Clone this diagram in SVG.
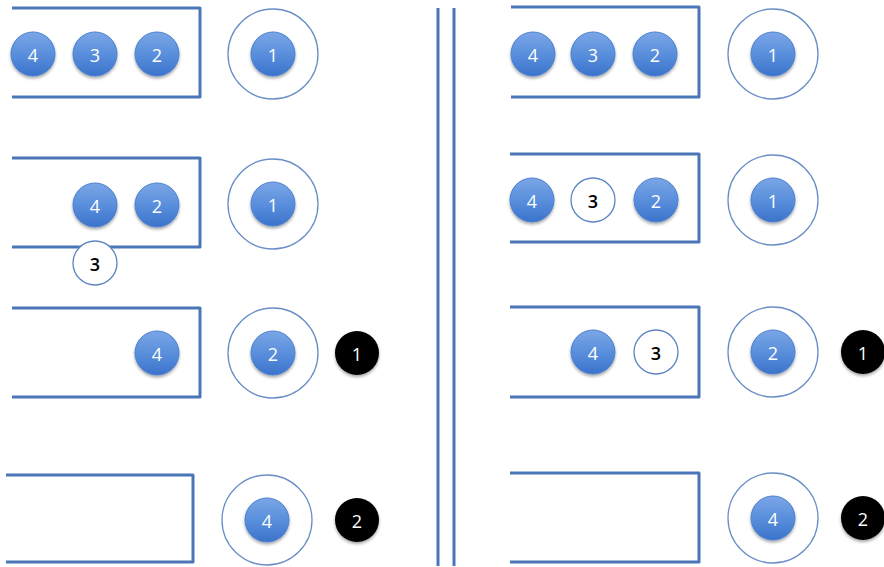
<svg xmlns="http://www.w3.org/2000/svg" width="884" height="567" viewBox="0 0 884 567">
<defs>
<linearGradient id="blue" x1="0" y1="0" x2="0" y2="1">
<stop offset="0" stop-color="#7ba6e6"/>
<stop offset="0.5" stop-color="#5a8fdc"/>
<stop offset="1" stop-color="#3b73cc"/>
</linearGradient>
<filter id="sh" x="-30%" y="-30%" width="160%" height="170%">
<feDropShadow dx="0" dy="2" stdDeviation="1.5" flood-color="#000" flood-opacity="0.35"/>
</filter>
</defs>
<style>
.box{fill:none;stroke:#4a76b8;stroke-width:3;stroke-linejoin:round}
.ring{fill:none;stroke:#6a8fc6;stroke-width:1.3}
.b{fill:url(#blue);stroke:#4a7fcf;stroke-width:1;filter:url(#sh)}
.k{fill:#000;filter:url(#sh)}
.w{fill:#fff;stroke:#5b84c0;stroke-width:1.3}
.sep{stroke:#4a76b8;stroke-width:3}
text{font-family:"Open Sans","Liberation Sans",sans-serif;font-size:18px;text-anchor:middle;dominant-baseline:central}
.tw{fill:#fff}
.tb{fill:#000;font-weight:600}
</style>
<g id="separator">
<line class="sep" x1="438" y1="8" x2="438" y2="566"/>
<line class="sep" x1="454" y1="8" x2="454" y2="566"/>
</g>
<g id="left-row1">
<path class="box" d="M12 8 H200 V97 H12"/>
<circle class="b" cx="33" cy="54" r="22"/><text class="tw" x="33" y="55">4</text>
<circle class="b" cx="95" cy="54" r="22"/><text class="tw" x="95" y="55">3</text>
<circle class="b" cx="157" cy="54" r="22"/><text class="tw" x="157" y="55">2</text>
<circle class="ring" cx="273" cy="54" r="45"/>
<circle class="b" cx="273" cy="54" r="22"/><text class="tw" x="273" y="55">1</text>
</g>
<g id="left-row2">
<path class="box" d="M12 158 H200 V247 H12"/>
<circle class="b" cx="95" cy="205" r="22"/><text class="tw" x="95" y="206">4</text>
<circle class="b" cx="157" cy="205" r="22"/><text class="tw" x="157" y="206">2</text>
<circle class="ring" cx="273" cy="204" r="45"/>
<circle class="b" cx="273" cy="204" r="22"/><text class="tw" x="273" y="205">1</text>
<circle class="w" cx="95" cy="263" r="22"/><text class="tb" x="95" y="264">3</text>
</g>
<g id="left-row3">
<path class="box" d="M12 308 H200 V397 H12"/>
<circle class="b" cx="157" cy="353" r="22"/><text class="tw" x="157" y="354">4</text>
<circle class="ring" cx="273" cy="353" r="45"/>
<circle class="b" cx="273" cy="353" r="22"/><text class="tw" x="273" y="354">2</text>
<circle class="k" cx="357" cy="353" r="22"/><text class="tw" x="357" y="354">1</text>
</g>
<g id="left-row4">
<path class="box" d="M6 475 H193 V562 H6"/>
<circle class="ring" cx="267" cy="520" r="45"/>
<circle class="b" cx="267" cy="520" r="22"/><text class="tw" x="267" y="521">4</text>
<circle class="k" cx="357" cy="520" r="22"/><text class="tw" x="357" y="521">2</text>
</g>
<g id="right-row1">
<path class="box" d="M511 7 H699 V97 H511"/>
<circle class="b" cx="533" cy="54" r="22"/><text class="tw" x="533" y="55">4</text>
<circle class="b" cx="593" cy="54" r="22"/><text class="tw" x="593" y="55">3</text>
<circle class="b" cx="655" cy="54" r="22"/><text class="tw" x="655" y="55">2</text>
<circle class="ring" cx="773" cy="54" r="45"/>
<circle class="b" cx="773" cy="54" r="22"/><text class="tw" x="773" y="55">1</text>
</g>
<g id="right-row2">
<path class="box" d="M510 154 H699 V242 H510"/>
<circle class="b" cx="532" cy="200" r="22"/><text class="tw" x="532" y="201">4</text>
<circle class="w" cx="593" cy="200" r="22"/><text class="tb" x="593" y="201">3</text>
<circle class="b" cx="656" cy="200" r="22"/><text class="tw" x="656" y="201">2</text>
<circle class="ring" cx="773" cy="200" r="45"/>
<circle class="b" cx="773" cy="200" r="22"/><text class="tw" x="773" y="201">1</text>
</g>
<g id="right-row3">
<path class="box" d="M510 307 H699 V397 H510"/>
<circle class="b" cx="593" cy="352" r="22"/><text class="tw" x="593" y="353">4</text>
<circle class="w" cx="656" cy="352" r="22"/><text class="tb" x="656" y="353">3</text>
<circle class="ring" cx="773" cy="352" r="45"/>
<circle class="b" cx="773" cy="352" r="22"/><text class="tw" x="773" y="353">2</text>
<circle class="k" cx="863" cy="352" r="22"/><text class="tw" x="863" y="353">1</text>
</g>
<g id="right-row4">
<path class="box" d="M510 473 H699 V562 H510"/>
<circle class="ring" cx="773" cy="518" r="45"/>
<circle class="b" cx="773" cy="518" r="22"/><text class="tw" x="773" y="519">4</text>
<circle class="k" cx="863" cy="518" r="22"/><text class="tw" x="863" y="519">2</text>
</g>
</svg>
